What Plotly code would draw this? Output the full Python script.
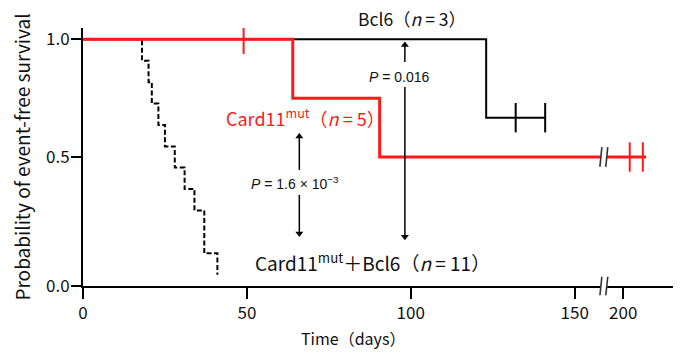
import plotly.graph_objects as go

# ---------------- data ----------------
x_tick_days = [0, 50, 100, 150, 200]
x_tick_text = ["0", "50", "100", "150", "200"]
y_tick_text = ["0.0", "0.5", "1.0"]

# Card11mut + Bcl6 (n = 11), step curve
comb_days = [0, 18, 20, 21, 23, 25, 28, 31, 34, 37, 41]
comb_surv = [1.0, 0.909, 0.818, 0.727, 0.636, 0.545, 0.455, 0.364, 0.273, 0.091, 0.0]

# Bcl6 (n = 3)
bcl6_days = [0, 123, 141]
bcl6_surv = [1.0, 0.667, 0.667]
bcl6_cens_days = [132, 141]
bcl6_cens_surv = [0.667, 0.667]

# Card11mut (n = 5)
card_days = [0, 64, 90.5, 207]
card_surv = [1.0, 0.75, 0.5, 0.5]
card_cens_days = [49, 202, 206]
card_cens_surv = [1.0, 0.5, 0.5]

label_bcl6 = "Bcl6（<i>n</i> = 3）"
label_card = "Card11<sup>mut</sup>（<i>n</i> = 5）"
label_comb = "Card11<sup>mut</sup>＋Bcl6（<i>n</i> = 11）"
p_bcl6_vs_comb = "<i>P</i> = 0.016"
p_card_vs_comb = "<i>P</i> = 1.6 × 10<sup>−3</sup>"
x_title = "Time（days）"
y_title = "Probability of event-free survival"

# ---------------- broken time axis ----------------
BREAK_AT = 160.0      # days before the axis break
BREAK_SHIFT = 35.2    # days removed by the break
BREAK_L, BREAK_R = 158.0, 159.8
X_MAX = 180
Y_MIN, Y_MAX = -0.048, 1.048


def xpos(days):
    return [d if d <= BREAK_AT else d - BREAK_SHIFT for d in days]


FONT = "Noto Sans CJK JP, Liberation Sans, sans-serif"
LATIN = "Liberation Sans, Arial, sans-serif"
RED = "#ff1a1a"
INK = "#111111"

fig = go.Figure()
fig.add_trace(go.Scatter(x=xpos(comb_days), y=comb_surv, mode="lines",
                         line=dict(color="black", width=2, dash="5px,2.5px", shape="hv"),
                         cliponaxis=False, hoverinfo="skip"))
fig.add_trace(go.Scatter(x=xpos(bcl6_days), y=bcl6_surv, mode="lines",
                         line=dict(color="black", width=2, shape="hv"), hoverinfo="skip"))
fig.add_trace(go.Scatter(x=xpos(bcl6_cens_days), y=bcl6_cens_surv, mode="markers",
                         marker=dict(symbol="line-ns", size=21, line=dict(color="black", width=2)),
                         hoverinfo="skip"))
fig.add_trace(go.Scatter(x=xpos(card_days), y=card_surv, mode="lines",
                         line=dict(color=RED, width=3, shape="hv"), hoverinfo="skip"))
fig.add_trace(go.Scatter(x=xpos(card_cens_days), y=card_cens_surv, mode="markers",
                         marker=dict(symbol="line-ns", size=21, line=dict(color=RED, width=2)),
                         hoverinfo="skip"))

# P-value arrows: (x, tail y, head-centre y, direction)
arrows = [
    (98.2, 0.904, 0.976, "triangle-up"),
    (98.2, 0.797, 0.161, "triangle-down"),
    (66.0, 0.445, 0.587, "triangle-up"),
    (66.0, 0.339, 0.175, "triangle-down"),
]
shapes = []
for (ax_, y0, y1, sym) in arrows:
    shapes.append(dict(type="line", xref="x", yref="y", x0=ax_, x1=ax_, y0=y0, y1=y1,
                       line=dict(color="black", width=1.5)))
fig.add_trace(go.Scatter(x=[a[0] for a in arrows], y=[a[2] for a in arrows], mode="markers",
                         marker=dict(symbol=[a[3] for a in arrows], size=7, color="black",
                                     line=dict(width=0)),
                         hoverinfo="skip"))

fig.update_layout(
    width=681, height=354,
    margin=dict(l=83, r=8, t=28, b=68),
    plot_bgcolor="white", paper_bgcolor="white",
    showlegend=False,
    font=dict(family=FONT, color=INK),
)
fig.update_xaxes(range=[0, X_MAX], showline=True, linewidth=2, linecolor="black",
                 ticks="outside", ticklen=11, tickwidth=2, tickcolor="black",
                 tickvals=xpos(x_tick_days), ticktext=x_tick_text,
                 tickfont=dict(size=17, color=INK),
                 showgrid=False, zeroline=False)
fig.update_yaxes(range=[Y_MIN, Y_MAX], showline=True, linewidth=2, linecolor="black",
                 ticks="outside", ticklen=10, tickwidth=2, tickcolor="black",
                 tickvals=[Y_MIN, 0.5, 1.0], ticktext=y_tick_text,
                 tickfont=dict(size=17, color=INK), ticklabelstandoff=-2,
                 showgrid=False, zeroline=False,
                 title=dict(text=y_title, font=dict(size=19, color=INK), standoff=10))

# axis-break marks on the red curve and on the time axis
shapes.append(dict(type="rect", xref="x", yref="y", x0=BREAK_L - 0.1, x1=BREAK_R + 0.1,
                   y0=0.5 - 0.02, y1=0.5 + 0.02, fillcolor="white", line=dict(width=0), layer="above"))
shapes.append(dict(type="rect", xref="x", yref="paper", x0=BREAK_L - 0.1, x1=BREAK_R + 0.1,
                   y0=-0.015, y1=0.015, fillcolor="white", line=dict(width=0), layer="above"))
for xb in (BREAK_L, BREAK_R):
    shapes.append(dict(type="line", xref="x", yref="y", x0=xb - 0.3, x1=xb + 0.3,
                       y0=0.5 - 0.042, y1=0.5 + 0.042, line=dict(color="#333333", width=1.6), layer="above"))
    shapes.append(dict(type="line", xref="x", yref="paper", x0=xb - 0.3, x1=xb + 0.3,
                       y0=-0.036, y1=0.036, line=dict(color="#333333", width=1.6), layer="above"))
fig.update_layout(shapes=shapes)

ann = [
    dict(text=label_bcl6, x=100.5, y=1.0376, yref="paper", font=dict(size=17.5, color=INK)),
    dict(text=label_card, x=68.0, y=0.671, yref="y", font=dict(size=18, color=RED)),
    dict(text=label_comb, x=88.3, y=0.055, yref="y", font=dict(size=19, color=INK)),
    dict(text=p_bcl6_vs_comb, x=96.7, y=0.841, yref="y", font=dict(size=14, color=INK, family=LATIN)),
    dict(text=p_card_vs_comb, x=64.7, y=0.388, yref="y", font=dict(size=14, color=INK, family=LATIN)),
    dict(text=x_title, x=82.4, y=-0.2016, yref="paper", font=dict(size=16, color=INK)),
]
for a in ann:
    a.update(xref="x", showarrow=False, xanchor="center", yanchor="middle")
fig.update_layout(annotations=ann)

fig.write_html("out.html", config={"displayModeBar": False},
               post_script="document.body.style.margin='0';")
